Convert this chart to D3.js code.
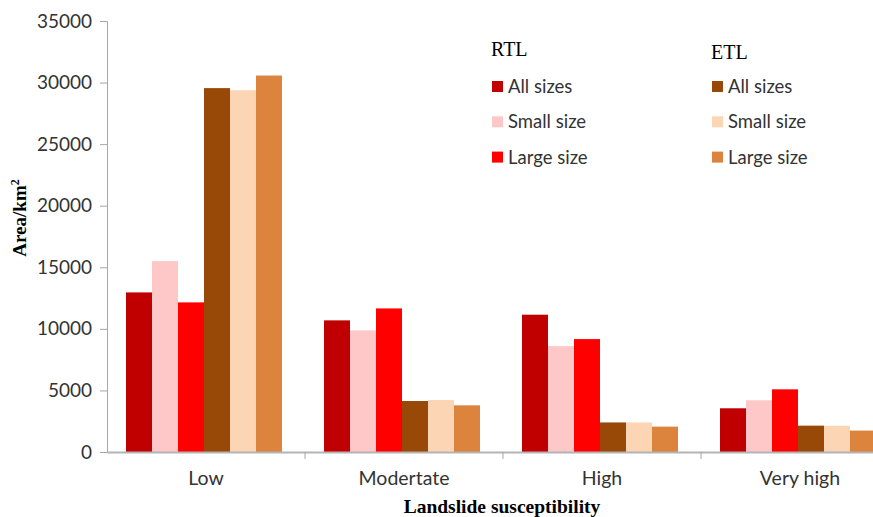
<!DOCTYPE html>
<html><head><meta charset="utf-8">
<script src="https://cdn.jsdelivr.net/npm/d3@7"></script>
<style>body{margin:0;background:#fff}svg{display:block}</style>
</head><body>
<svg id="c" width="873" height="517"></svg>
<script>
const categories = ["Low", "Modertate", "High", "Very high"];
const seriesNames = ["RTL All sizes", "RTL Small size", "RTL Large size", "ETL All sizes", "ETL Small size", "ETL Large size"];
const rtlAll   = [12960, 10690, 11150, 3550];
const rtlSmall = [15500, 9875, 8600, 4200];
const rtlLarge = [12150, 11660, 9170, 5090];
const etlAll   = [29550, 4140, 2400, 2140];
const etlSmall = [29380, 4220, 2400, 2130];
const etlLarge = [30570, 3790, 2060, 1740];
const seriesValues = [rtlAll, rtlSmall, rtlLarge, etlAll, etlSmall, etlLarge];
const colors = ["#C00000", "#FFC8C8", "#FF0000", "#984807", "#FCD5B5", "#DC843E"];
const yTicks = [0, 5000, 10000, 15000, 20000, 25000, 30000, 35000];
const legendLabels = ["All sizes", "Small size", "Large size"];
const legendGroups = ["RTL", "ETL"];

const svg = d3.select("#c");
const left = 107, catW = 198, y0 = 452, yTop = 21;
const x0 = d3.scaleBand().domain(categories).range([left, left + catW * categories.length]);
const x1 = d3.scaleBand().domain(seriesNames).range([19, 175]);
const y = d3.scaleLinear().domain([0, 35000]).range([y0, yTop]);

const sans = "Lato, 'Open Sans', sans-serif";
const serif = "'Liberation Serif', 'DejaVu Serif', serif";

// bars
categories.forEach((c, ci) => {
  const g = svg.append("g").attr("transform", `translate(${x0(c)},0)`);
  seriesNames.forEach((s, si) => {
    const v = seriesValues[si][ci];
    g.append("rect").attr("x", x1(s)).attr("width", x1.bandwidth())
      .attr("y", y(v)).attr("height", y0 - y(v)).attr("fill", colors[si]);
  });
});

// y axis
const yAxis = svg.append("g").attr("transform", `translate(${left},0)`)
  .call(d3.axisLeft(y).tickValues(yTicks).tickSize(7).tickPadding(8).tickFormat(d3.format("d")));
yAxis.select(".domain").attr("stroke", "#A6A6A6").attr("stroke-width", 1);
yAxis.selectAll(".tick line").attr("stroke", "#A6A6A6");
yAxis.selectAll("text").attr("font-family", sans).attr("font-size", 19).attr("fill", "#333");

// x axis
const xAxis = svg.append("g").attr("transform", `translate(0,${y0})`)
  .call(d3.axisBottom(x0).tickSize(0).tickPadding(19));
xAxis.select(".domain").attr("stroke", "#B4B4B4").attr("stroke-width", 2);
xAxis.selectAll("text").attr("font-family", sans).attr("font-size", 19.5).attr("fill", "#333");
// boundary ticks
svg.append("g").selectAll("line").data(categories.slice(1)).join("line")
  .attr("x1", d => x0(d)).attr("x2", d => x0(d)).attr("y1", y0).attr("y2", y0 + 7)
  .attr("stroke", "#A6A6A6");

// axis titles
svg.append("text").attr("transform", "translate(26,218) rotate(-90)")
  .attr("text-anchor", "middle").attr("font-family", serif).attr("font-weight", "bold")
  .attr("font-size", 19).attr("fill", "#000")
  .text("Area/km").append("tspan").attr("baseline-shift", "super").attr("font-size", 12).text("2");
svg.append("text").attr("x", 502).attr("y", 513).attr("text-anchor", "middle")
  .attr("font-family", serif).attr("font-weight", "bold").attr("font-size", 19.5).attr("fill", "#000")
  .text("Landslide susceptibility");

// legend
const legX = [491, 711], titleY = [56, 59];
legendGroups.forEach((grp, gi) => {
  svg.append("text").attr("x", legX[gi]).attr("y", titleY[gi]).attr("font-family", serif)
    .attr("font-size", 20).attr("fill", "#000").text(grp);
  legendLabels.forEach((lab, li) => {
    const cy = 86.5 + li * 35.3;
    svg.append("rect").attr("x", legX[gi] + 1).attr("y", cy - 5.5).attr("width", 11).attr("height", 11)
      .attr("fill", colors[gi * 3 + li]);
    svg.append("text").attr("x", legX[gi] + 17).attr("y", cy + 6.5).attr("font-family", sans)
      .attr("font-size", 18.5).attr("fill", "#333").text(lab);
  });
});
</script>
</body></html>
